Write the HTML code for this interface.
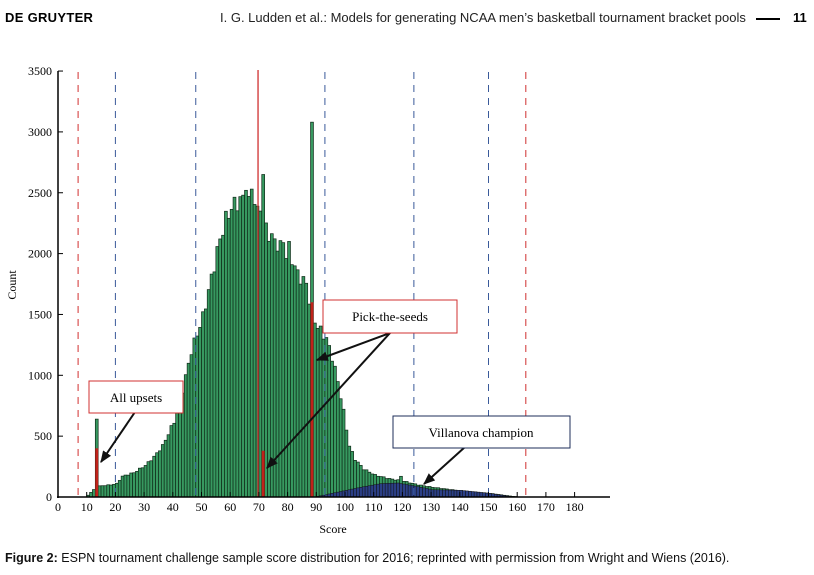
<!DOCTYPE html>
<html><head><meta charset="utf-8"><style>
body{margin:0;width:814px;height:575px;background:#fff;overflow:hidden;position:relative;font-family:"Liberation Sans",sans-serif}
.h{position:absolute;top:10px;font-size:13px}
</style></head><body>
<div class="h" style="left:5px;font-weight:bold;letter-spacing:0.3px">DE GRUYTER</div>
<div class="h" style="left:220px;font-size:13px;color:#222">I. G. Ludden et al.: Models for generating NCAA men’s basketball tournament bracket pools</div>
<div style="position:absolute;left:756px;top:18px;width:24px;height:2px;background:#000"></div>
<div class="h" style="left:793px;font-weight:bold">11</div>
<div style="position:absolute;left:5px;top:551px;font-size:12.5px;color:#111"><b>Figure 2:</b> ESPN tournament challenge sample score distribution for 2016; reprinted with permission from Wright and Wiens (2016).</div>
<svg id="s" width="814" height="575" style="position:absolute;left:0;top:0" font-family="Liberation Serif,serif" font-size="12"></svg>
<script>
const S=document.getElementById('s');let h='';
const X=v=>58+v*2.87, Y=c=>497-c*0.1217;
const g=[[9,0],[10,15],[12,60],[14,90],[18,100],[20,110],[22,170],[26,200],[30,260],[33,330],[36,420],[40,620],[43,880],[46,1200],[50,1480],[53,1800],[56,2120],[58,2280],[60,2380],[62,2420],[66,2500],[68,2450],[70,2400],[72,2200],[74,2130],[77,2050],[80,2020],[83,1830],[86,1750],[88,1500],[90,1400],[93,1300],[95,1150],[97,950],[99,700],[101,420],[103,310],[106,230],[110,180],[115,150],[120,130],[125,100],[130,80],[140,50],[150,30],[158,5],[162,0]];
const b=[[89,0],[95,30],[105,80],[112,110],[118,115],[124,90],[130,60],[140,55],[150,30],[157,5],[160,0]];
function itp(a,x){if(x<a[0][0]||x>a[a.length-1][0])return 0;for(let i=1;i<a.length;i++)if(x<=a[i][0]){const t=(x-a[i-1][0])/(a[i][0]-a[i-1][0]);return a[i-1][1]+t*(a[i][1]-a[i-1][1]);}return 0;}
const sp={13:640,71:2650,88:3080,64:2480,65:2520,66:2470,67:2530,78:2090,80:2100,79:1960,119:170,69:2390};
for(let s=9;s<162;s++){let c=sp[s]||itp(g,s)*(1+0.03*Math.sin(s*2.3));if(c<3)continue;
h+=`<rect x="${X(s)}" y="${Y(c)}" width="2.87" height="${c*0.1217}" fill="#379960" stroke="#0f2a18" stroke-width="0.7"/>`;}
for(let s=89;s<160;s++){let c=itp(b,s);if(c<3)continue;h+=`<rect x="${X(s)}" y="${Y(c)}" width="2.87" height="${c*0.1217}" fill="#2b3f86" stroke="#111" stroke-width="0.5"/>`;}
[[13,400],[71,380],[88,1600]].forEach(([s,c])=>h+=`<rect x="${X(s)}" y="${Y(c)}" width="2.87" height="${c*0.1217}" fill="#c0221a"/>`);
[20,48,93,124,150].forEach(v=>h+=`<line x1="${X(v)}" x2="${X(v)}" y1="72" y2="497" stroke="#3a5a9a" stroke-dasharray="7,6"/>`);
[7,163].forEach(v=>h+=`<line x1="${X(v)}" x2="${X(v)}" y1="72" y2="497" stroke="#d03030" stroke-dasharray="7,6"/>`);
h+=`<line x1="${X(69.7)}" x2="${X(69.7)}" y1="70" y2="497" stroke="#d03030" stroke-width="1.3"/>`;
h+=`<line x1="58" y1="71" x2="58" y2="498" stroke="#000" stroke-width="1.5"/><line x1="57" y1="497" x2="610" y2="497" stroke="#000" stroke-width="1.5"/>`;
for(let i=0;i<=7;i++){const y=Y(i*500);h+=`<line x1="58" x2="63" y1="${y}" y2="${y}" stroke="#000"/><text x="52" y="${y+4}" text-anchor="end">${i*500}</text>`;}
for(let i=0;i<=18;i++){const x=X(i*10);h+=`<line x1="${x}" x2="${x}" y1="497" y2="492" stroke="#000"/><text x="${x}" y="511" text-anchor="middle">${i*10}</text>`;}
h+=`<text x="333" y="533" text-anchor="middle">Score</text><text transform="translate(16,285) rotate(-90)" text-anchor="middle">Count</text>`;
h+=`<defs><marker id="a" viewBox="0 0 10 10" refX="9" refY="5" markerWidth="6" markerHeight="6" orient="auto"><path d="M0,1L10,5L0,9z" fill="#111"/></marker></defs>`;
[[135,412,101,462],[390,333,317,360],[390,333,267,468],[465,447,424,484]].forEach(a=>h+=`<line x1="${a[0]}" y1="${a[1]}" x2="${a[2]}" y2="${a[3]}" stroke="#111" stroke-width="2" marker-end="url(#a)"/>`);
h+=`<rect x="89" y="381" width="94" height="32" fill="#fff" stroke="#d03030"/><text x="136" y="402" text-anchor="middle" font-size="13">All upsets</text>`;
h+=`<rect x="323" y="300" width="134" height="33" fill="#fff" stroke="#d03030"/><text x="390" y="321" text-anchor="middle" font-size="13">Pick-the-seeds</text>`;
h+=`<rect x="393" y="416" width="177" height="32" fill="#fff" stroke="#1e2e5a"/><text x="481" y="437" text-anchor="middle" font-size="13">Villanova champion</text>`;
S.innerHTML=h;
</script>
</body></html>
